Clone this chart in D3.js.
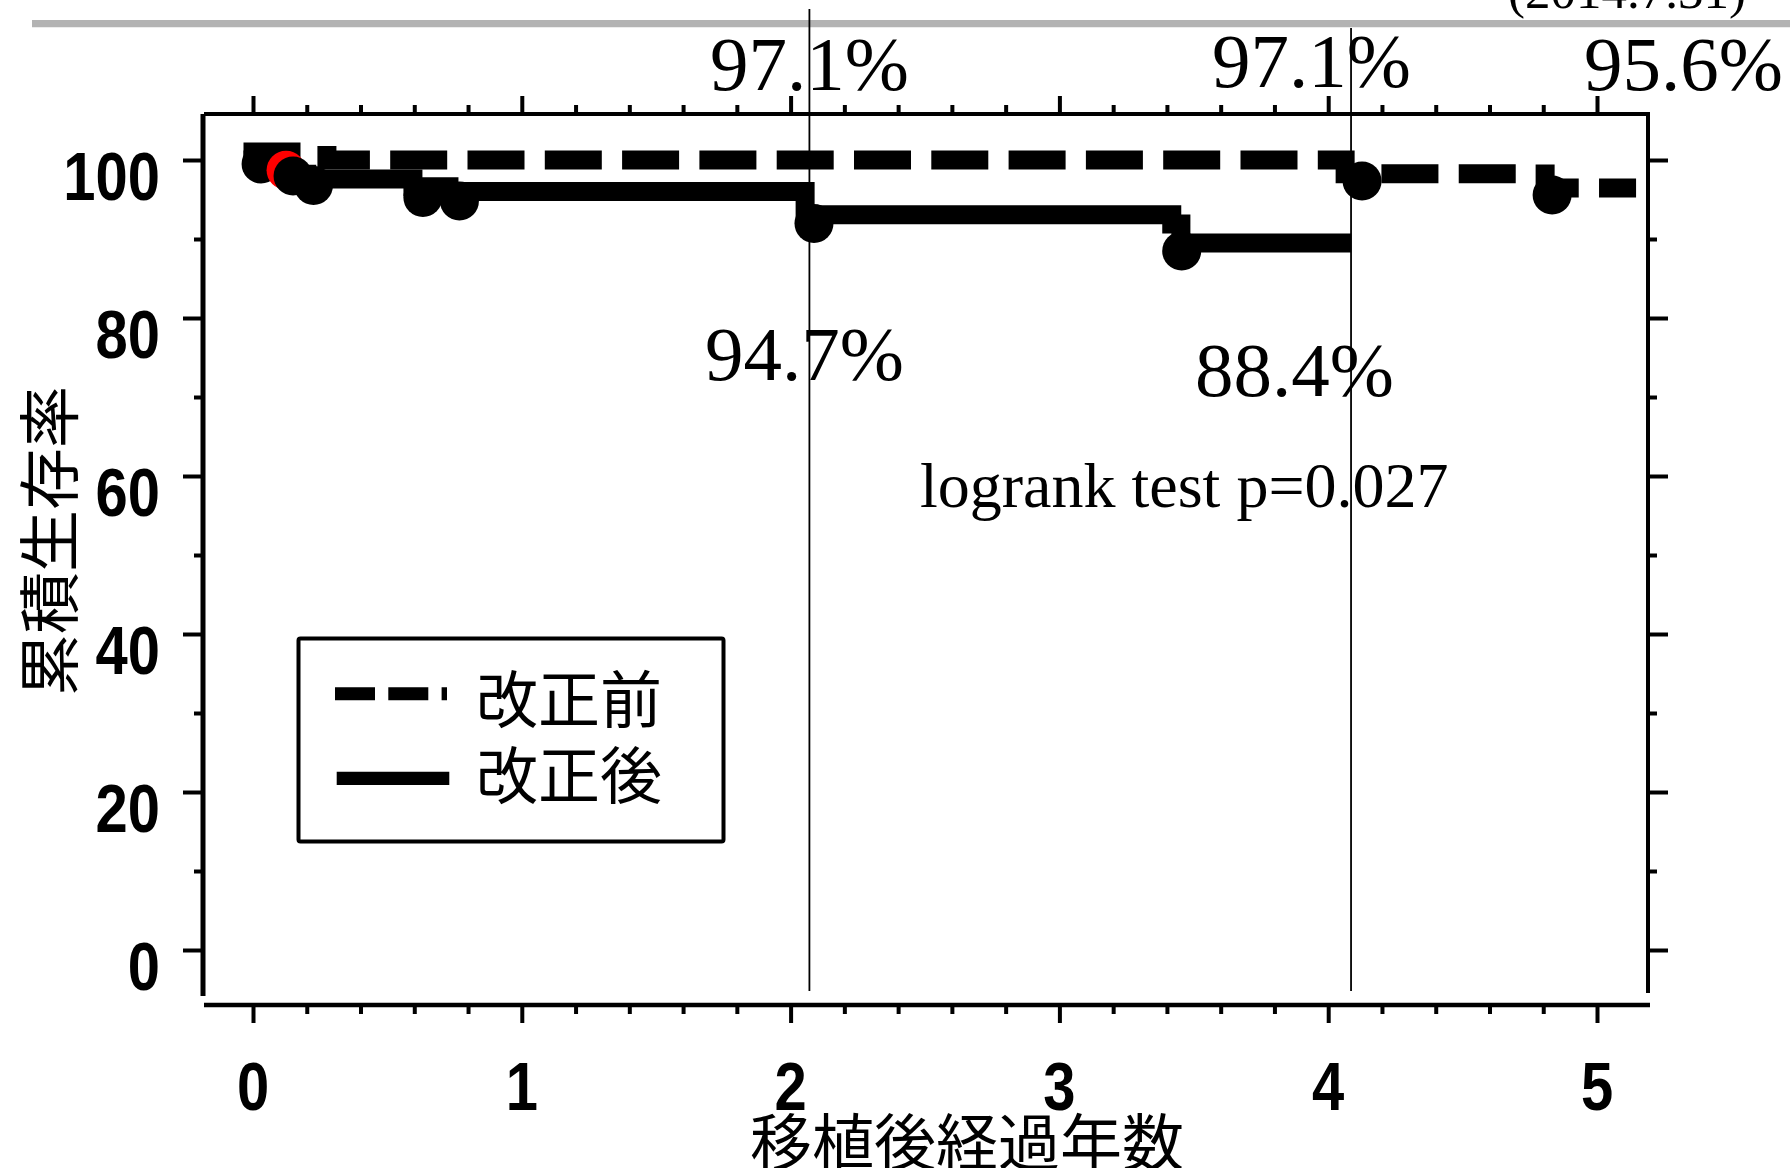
<!DOCTYPE html>
<html>
<head>
<meta charset="utf-8">
<script src="https://cdn.jsdelivr.net/npm/d3@7"></script>
<style>
  body { margin: 0; background: #fff; }
  svg { display: block; }
</style>
</head>
<body>
<div id="chart"></div>
<script>
// 改正前 (dashed) : [years, survival %], value after each step
var beforeSteps = [[0, 101], [0.275, 100], [4.063, 98.27], [4.807, 96.46], [5.11, 96.46]];
var beforeCensor = [[4.126, 97.34], [4.833, 95.57]];

// 改正後 (solid)
var afterSteps = [[0, 100], [0.04, 99.0], [0.13, 98.2], [0.2, 97.6], [0.595, 96.6], [0.729, 96.0],
                  [2.054, 93.06], [3.418, 91.9], [3.452, 89.5], [4.05, 89.5]];
var afterCensor = [[0.03, 99.5], [0.149, 97.97], [0.225, 96.77], [0.632, 95.25], [0.768, 94.81],
                   [2.087, 91.96], [3.455, 88.48]];
var redCensor = [[0.123, 98.7]];

var refYears = [2.07, 4.085];
var xTicks = [0, 1, 2, 3, 4, 5];
var yTicks = [0, 20, 40, 60, 80, 100];
var xMinor = d3.range(0, 5.001, 0.2).filter(function (d) { return Math.abs(d - Math.round(d)) > 0.01; });
var yMinor = [10, 30, 50, 70, 90];

var seriesNames = ['改正前', '改正後'];
var rateLabels = ['97.1%', '94.7%', '97.1%', '88.4%', '95.6%'];
var testLabel = 'logrank test p=0.027';
var dateLabel = '(2014.7.31)';
var xTitle = '移植後経過年数';
var yTitle = '累積生存率';

var W = 1790, H = 1168;
var frame = { left: 203, right: 1648, top: 114, bottom: 1005 };
var rateLabelPos = [[710, 90], [705, 380], [1212, 87], [1195, 396], [1584, 90]];

var svg = d3.select('#chart').append('svg')
    .attr('width', W)
    .attr('height', H);

var x = d3.scaleLinear().domain([0, 5]).range([253, 1597]);
var y = d3.scaleLinear().domain([0, 100]).range([950, 160]);

var serif = "'Liberation Serif', 'Times New Roman', serif";
var cjk = "'Noto Sans CJK JP', 'Noto Sans', sans-serif";
var numFont = "'Liberation Sans', Arial, sans-serif";

// grey rule at the top
svg.append('line')
    .attr('x1', 32).attr('x2', W)
    .attr('y1', 23.7).attr('y2', 23.7)
    .attr('stroke', '#b3b3b3')
    .attr('stroke-width', 7.3);

svg.append('text')
    .attr('x', 1508).attr('y', 8)
    .attr('font-family', serif)
    .attr('font-size', 51)
    .text(dateLabel);

// frame
var frameLines = [
  [frame.left + 1, frame.top, frame.right + 2, frame.top, 4],
  [frame.left, frame.top, frame.left, 996, 5],
  [frame.right, frame.top, frame.right, 993, 4],
  [frame.left + 1, frame.bottom, frame.right + 2, frame.bottom, 4.5]
];
svg.selectAll('.frame')
    .data(frameLines)
    .enter().append('line')
    .attr('class', 'frame')
    .attr('x1', function (d) { return d[0]; })
    .attr('y1', function (d) { return d[1]; })
    .attr('x2', function (d) { return d[2]; })
    .attr('y2', function (d) { return d[3]; })
    .attr('stroke', '#000')
    .attr('stroke-width', function (d) { return d[4]; });

var tickAxis = function (axisFn, scale, values, size, tx, ty) {
  svg.append('g')
      .attr('transform', 'translate(' + tx + ',' + ty + ')')
      .call(axisFn(scale).tickValues(values).tickSize(size).tickFormat(''))
      .call(function (g) { g.select('.domain').remove(); })
      .selectAll('line')
      .attr('stroke', '#000')
      .attr('stroke-width', 4);
}

tickAxis(d3.axisLeft, y, yTicks, 20, frame.left, 0);
tickAxis(d3.axisLeft, y, yMinor, 9, frame.left, 0);
tickAxis(d3.axisRight, y, yTicks, 20, frame.right, 0);
tickAxis(d3.axisRight, y, yMinor, 9, frame.right, 0);
tickAxis(d3.axisTop, x, xTicks, 18, 0, frame.top);
tickAxis(d3.axisTop, x, xMinor, 9, 0, frame.top);
tickAxis(d3.axisBottom, x, xTicks, 18, 0, frame.bottom);
tickAxis(d3.axisBottom, x, xMinor, 9, 0, frame.bottom);

// tick labels, bold and narrowed
svg.selectAll('.ylab')
    .data(yTicks)
    .enter().append('text')
    .attr('class', 'ylab')
    .attr('transform', function (d) { return 'translate(160,' + (y(d) + 40) + ') scale(0.84,1)'; })
    .attr('text-anchor', 'end')
    .attr('font-family', numFont)
    .attr('font-weight', 'bold')
    .attr('font-size', 69)
    .text(function (d) { return d; });

svg.selectAll('.xlab')
    .data(xTicks)
    .enter().append('text')
    .attr('class', 'xlab')
    .attr('transform', function (d) { return 'translate(' + x(d) + ',1110) scale(0.84,1)'; })
    .attr('text-anchor', 'middle')
    .attr('font-family', numFont)
    .attr('font-weight', 'bold')
    .attr('font-size', 69)
    .text(function (d) { return d; });

// axis titles
svg.append('text')
    .attr('x', 967).attr('y', 1139)
    .attr('text-anchor', 'middle')
    .attr('dominant-baseline', 'central')
    .attr('font-family', cjk)
    .attr('font-size', 62)
    .text(xTitle);

svg.append('text')
    .attr('transform', 'translate(46,541) rotate(-90)')
    .attr('text-anchor', 'middle')
    .attr('dominant-baseline', 'central')
    .attr('font-family', cjk)
    .attr('font-size', 62)
    .text(yTitle);

// survival curves
var stepLine = d3.line()
    .x(function (d) { return x(d[0]); })
    .y(function (d) { return y(d[1]); })
    .curve(d3.curveStepAfter);

var dot = function (data, color) {
  svg.append('g').selectAll('circle')
      .data(data)
      .enter().append('circle')
      .attr('cx', function (d) { return x(d[0]); })
      .attr('cy', function (d) { return y(d[1]); })
      .attr('r', 19.5)
      .attr('fill', color);
}

svg.append('path')
    .datum(afterSteps)
    .attr('d', stepLine)
    .attr('fill', 'none')
    .attr('stroke', '#000')
    .attr('stroke-width', 19)
    .attr('stroke-linecap', 'square')
    .attr('stroke-linejoin', 'miter');

svg.append('path')
    .datum(beforeSteps)
    .attr('d', stepLine)
    .attr('fill', 'none')
    .attr('stroke', '#000')
    .attr('stroke-width', 19)
    .attr('stroke-linecap', 'square')
    .attr('stroke-linejoin', 'miter')
    .attr('stroke-dasharray', '38,39.3');

// first censor mark, then the red one over it, then the rest on top
dot(afterCensor.slice(0, 1), '#000');
dot(redCensor, '#ff0000');
dot(afterCensor.slice(1), '#000');
dot(beforeCensor, '#000');

// reference lines
svg.selectAll('.ref')
    .data(refYears)
    .enter().append('line')
    .attr('class', 'ref')
    .attr('x1', function (d) { return x(d); })
    .attr('x2', function (d) { return x(d); })
    .attr('y1', function (d, i) { return i === 0 ? 9 : 28; })
    .attr('y2', 991)
    .attr('stroke', '#000')
    .attr('stroke-width', 1.8);

// annotations
svg.selectAll('.rate')
    .data(rateLabels)
    .enter().append('text')
    .attr('class', 'rate')
    .attr('x', function (d, i) { return rateLabelPos[i][0]; })
    .attr('y', function (d, i) { return rateLabelPos[i][1]; })
    .attr('font-family', serif)
    .attr('font-size', 77)
    .text(function (d) { return d; });

svg.append('text')
    .attr('x', 920).attr('y', 507)
    .attr('font-family', serif)
    .attr('font-size', 64)
    .text(testLabel);

// legend
var legend = svg.append('g');
legend.append('rect')
    .attr('x', 298.5).attr('y', 638.5)
    .attr('width', 425).attr('height', 203)
    .attr('rx', 2)
    .attr('fill', '#fff')
    .attr('stroke', '#000')
    .attr('stroke-width', 4);

legend.append('line')
    .attr('x1', 335).attr('x2', 447)
    .attr('y1', 693.7).attr('y2', 693.7)
    .attr('stroke', '#000')
    .attr('stroke-width', 13)
    .attr('stroke-dasharray', '40,13.3');

legend.append('line')
    .attr('x1', 336.7).attr('x2', 449.3)
    .attr('y1', 778.3).attr('y2', 778.3)
    .attr('stroke', '#000')
    .attr('stroke-width', 13.3);

legend.selectAll('.legtext')
    .data(seriesNames)
    .enter().append('text')
    .attr('class', 'legtext')
    .attr('x', 476)
    .attr('y', function (d, i) { return i === 0 ? 696 : 771.5; })
    .attr('dominant-baseline', 'central')
    .attr('font-family', cjk)
    .attr('font-size', 62)
    .text(function (d) { return d; });
</script>
</body>
</html>
